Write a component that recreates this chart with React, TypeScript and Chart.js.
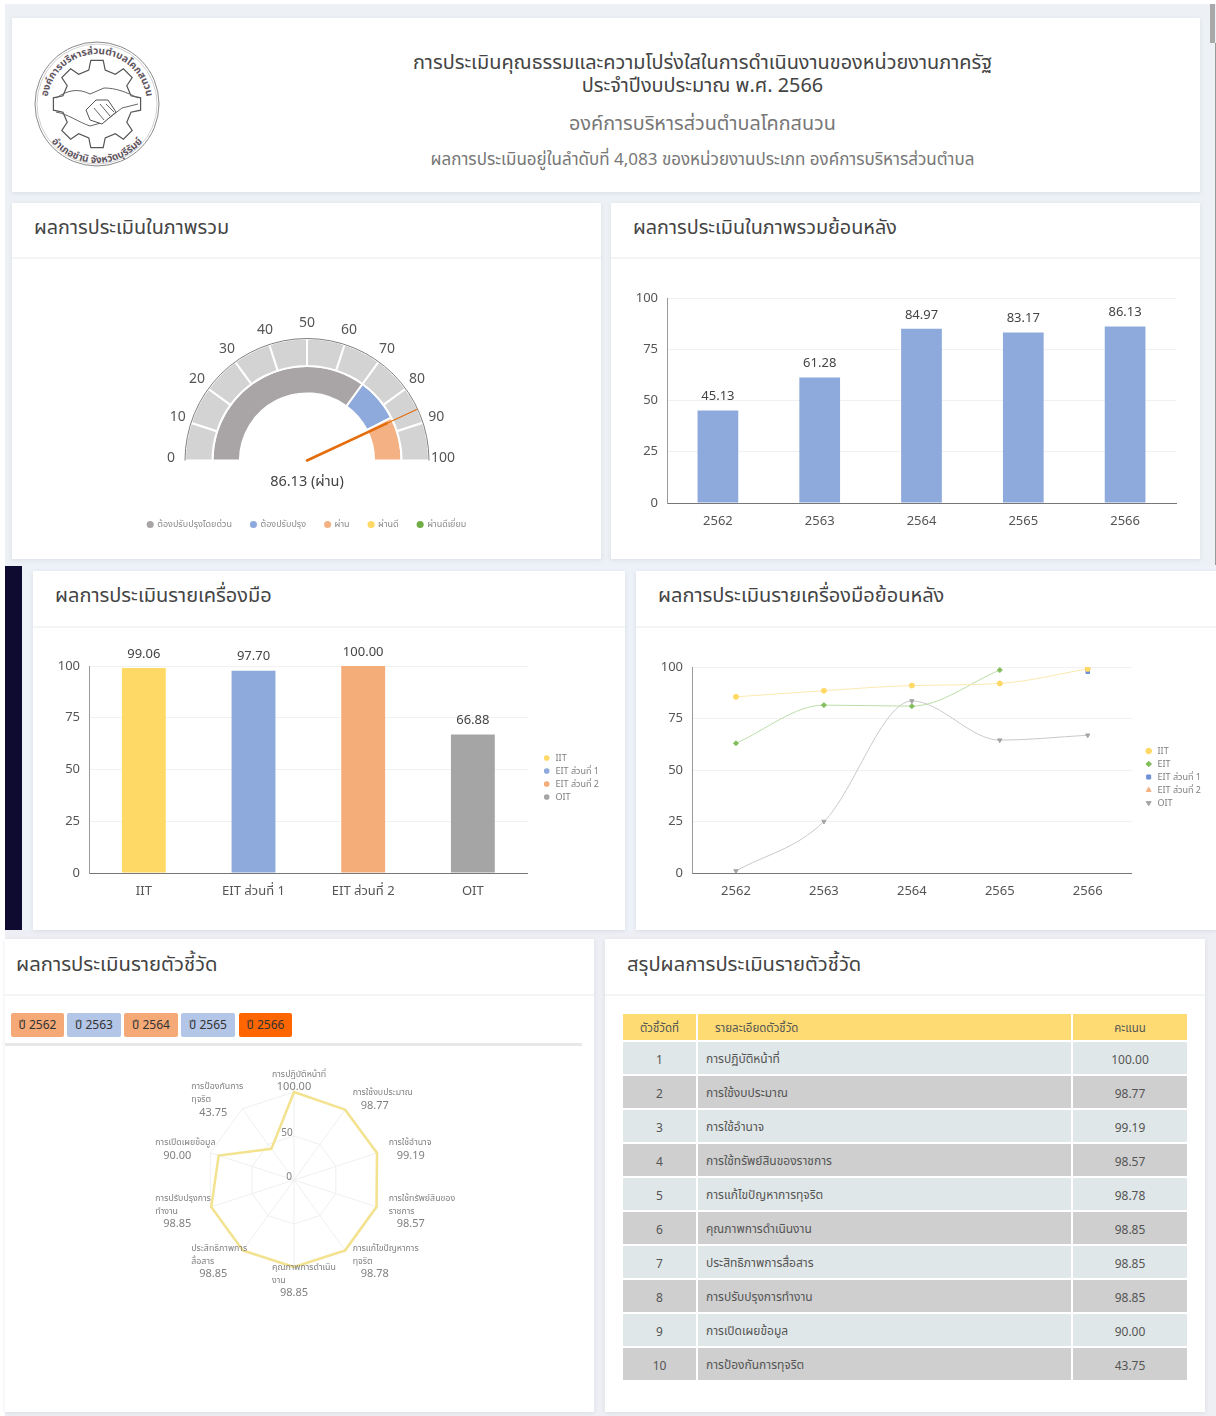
import React, { useEffect, useRef } from "react";
import { Chart, registerables } from "chart.js";

Chart.register(...registerables);

const FONT = '"Noto Sans", "Noto Sans Thai", Lato, sans-serif';
Chart.defaults.font.family = FONT;

// ---- data ----
const GAUGE_TICKS = [0, 10, 20, 30, 40, 50, 60, 70, 80, 90, 100];
const GAUGE_OUTER = [10, 10, 10, 10, 10, 10, 10, 10, 10, 10];
const GAUGE_INNER = [70, 15, 15, 0, 0];
const GAUGE_LEGEND = ["ต้องปรับปรุงโดยด่วน", "ต้องปรับปรุง", "ผ่าน", "ผ่านดี", "ผ่านดีเยี่ยม"];
const GAUGE_COLORS = ["#a9a5a6", "#8ea9db", "#f4b183", "#ffd966", "#70ad47"];
const GAUGE_VALUE = 86.13;
const GAUGE_TEXT = "86.13 (ผ่าน)";

const YEARS = ["2562", "2563", "2564", "2565", "2566"];
const OVERALL_HISTORY = [45.13, 61.28, 84.97, 83.17, 86.13];

const TOOLS = ["IIT", "EIT ส่วนที่ 1", "EIT ส่วนที่ 2", "OIT"];
const TOOL_SCORES = [99.06, 97.7, 100.0, 66.88];
const TOOL_COLORS = ["#ffd966", "#8ea9db", "#f4ac78", "#a5a5a5"];

const LINE_IIT = [85.5, 88.5, 91, 92, 99.06];
const LINE_EIT = [63, 81.5, 81, 98.5, null];
const LINE_EIT1 = [null, null, null, null, 97.7];
const LINE_EIT2 = [null, null, null, null, 100];
const LINE_OIT = [1, 25, 83.5, 64.5, 66.88];

const INDICATOR_NO = ["1", "2", "3", "4", "5", "6", "7", "8", "9", "10"];
const INDICATORS = [
  "การปฏิบัติหน้าที่",
  "การใช้งบประมาณ",
  "การใช้อำนาจ",
  "การใช้ทรัพย์สินของราชการ",
  "การแก้ไขปัญหาการทุจริต",
  "คุณภาพการดำเนินงาน",
  "ประสิทธิภาพการสื่อสาร",
  "การปรับปรุงการทำงาน",
  "การเปิดเผยข้อมูล",
  "การป้องกันการทุจริต",
];
const INDICATOR_SCORES = [100.0, 98.77, 99.19, 98.57, 98.78, 98.85, 98.85, 98.85, 90.0, 43.75];
const RADAR_LABELS = [
  ["การปฏิบัติหน้าที่"],
  ["การใช้งบประมาณ"],
  ["การใช้อำนาจ"],
  ["การใช้ทรัพย์สินของ", "ราชการ"],
  ["การแก้ไขปัญหาการ", "ทุจริต"],
  ["คุณภาพการดำเนิน", "งาน"],
  ["ประสิทธิภาพการ", "สื่อสาร"],
  ["การปรับปรุงการ", "ทำงาน"],
  ["การเปิดเผยข้อมูล"],
  ["การป้องกันการ", "ทุจริต"],
];
const RADAR_VALUE_OFFSETS = [
  [0, -5], [29, -3], [33, 3], [33, 17], [29, 23],
  [0, 25], [-29, 23], [-33, 17], [-33, 3], [-29, 4],
];
const YEAR_BUTTONS = ["ปี 2562", "ปี 2563", "ปี 2564", "ปี 2565", "ปี 2566"];
const YEAR_COLORS = ["#f4a977", "#b4c6e7", "#f4a977", "#b4c6e7", "#ff6600"];

// ---- plugins ----
const barValues = {
  id: "barValues",
  afterDatasetsDraw(chart: any) {
    const { ctx } = chart;
    const meta = chart.getDatasetMeta(0);
    ctx.save();
    ctx.font = `13px ${FONT}`;
    ctx.fillStyle = "#444";
    ctx.textAlign = "center";
    ctx.textBaseline = "middle";
    meta.data.forEach((el: any, i: number) => {
      ctx.fillText(chart.data.datasets[0].data[i].toFixed(2), el.x, el.y - 14);
    });
    ctx.restore();
  },
};

const legendShift = (dx: number, dy: number) => ({
  id: "legendShift",
  afterLayout(chart: any) {
    const l = chart.legend;
    l.left += dx;
    l.right += dx;
    l.top += dy;
    l.bottom += dy;
  },
});

const gaugeDecor = {
  id: "gaugeDecor",
  afterDatasetsDraw(chart: any) {
    const { ctx } = chart;
    const arc = chart.getDatasetMeta(0).data[0];
    const { x, y, outerRadius } = arc;
    ctx.save();
    ctx.strokeStyle = "#7f7f7f";
    ctx.lineWidth = 1;
    ctx.beginPath();
    ctx.arc(x, y, outerRadius, Math.PI, 2 * Math.PI);
    ctx.stroke();
    // needle
    const a = Math.PI + (GAUGE_VALUE / 100) * Math.PI;
    const cos = Math.cos(a);
    const sin = Math.sin(a);
    ctx.strokeStyle = "#e46c0a";
    ctx.lineCap = "round";
    ctx.lineWidth = 2.6;
    ctx.beginPath();
    ctx.moveTo(x, y);
    ctx.lineTo(x + cos * 88, y + sin * 88);
    ctx.stroke();
    ctx.lineWidth = 1.2;
    ctx.beginPath();
    ctx.moveTo(x + cos * 86, y + sin * 86);
    ctx.lineTo(x + cos * (outerRadius - 1), y + sin * (outerRadius - 1));
    ctx.stroke();
    // ticks
    ctx.font = `14px ${FONT}`;
    ctx.fillStyle = "#555";
    ctx.textAlign = "center";
    ctx.textBaseline = "middle";
    GAUGE_TICKS.forEach((t) => {
      const ta = Math.PI + (t / 100) * Math.PI;
      ctx.fillText(String(t), x + Math.cos(ta) * 136, y + Math.sin(ta) * 135 - 2);
    });
    ctx.font = `14.5px ${FONT}`;
    ctx.fillStyle = "#444";
    ctx.fillText(GAUGE_TEXT, x, y + 21);
    ctx.restore();
  },
};

const radarDecor = {
  id: "radarDecor",
  afterDatasetsDraw(chart: any) {
    const { ctx } = chart;
    const scale = chart.scales.r;
    ctx.save();
    ctx.textBaseline = "middle";
    ctx.fillStyle = "#808080";
    ctx.font = `10px ${FONT}`;
    ctx.textAlign = "center";
    [0, 50].forEach((v) => {
      ctx.fillText(String(v), scale.xCenter - (v ? 7 : 5), scale.yCenter - scale.getDistanceFromCenterForValue(v) - 3);
    });
    RADAR_LABELS.forEach((lines, i) => {
      const p = scale.getPointPosition(i, scale.drawingArea);
      const vx = p.x + RADAR_VALUE_OFFSETS[i][0];
      const vy = p.y + RADAR_VALUE_OFFSETS[i][1];
      ctx.font = `11px ${FONT}`;
      ctx.fillStyle = "#808080";
      ctx.textAlign = "center";
      ctx.fillText(INDICATOR_SCORES[i].toFixed(2), vx, vy);
      ctx.font = `8.8px ${FONT}`;
      ctx.textAlign = "left";
      lines.forEach((line, j) => {
        ctx.fillText(line, vx - 22, vy - 13 * (lines.length - j));
      });
    });
    ctx.restore();
  },
};

// ---- helpers ----
const fixWidth = (w: number) => (scale: any) => {
  scale.width = w;
};
const fixHeight = (h: number) => (scale: any) => {
  scale.height = h;
};

function cartesianScales(yWidth: number) {
  return {
    x: {
      afterFit: fixHeight(30),
      grid: { display: false, drawTicks: false },
      border: { color: "#777" },
      ticks: { color: "#555", font: { size: 13 }, padding: 10 },
    },
    y: {
      min: 0,
      max: 100,
      afterFit: fixWidth(yWidth),
      grid: { color: "#f1f1f1", drawTicks: false },
      border: { color: "#999" },
      ticks: { stepSize: 25, color: "#555", font: { size: 13 }, padding: 9 },
    },
  };
}

function ChartBox({ x, y, w, h, config }: any) {
  const ref = useRef<HTMLCanvasElement>(null);
  useEffect(() => {
    const chart = new Chart(ref.current as HTMLCanvasElement, config());
    return () => chart.destroy();
  }, []);
  return (
    <div style={{ position: "absolute", left: x, top: y, width: w, height: h }}>
      <canvas ref={ref} width={w} height={h} style={{ display: "block", width: w, height: h }} />
    </div>
  );
}

function gaugeConfig() {
  return {
    type: "doughnut",
    data: {
      labels: GAUGE_LEGEND,
      datasets: [
        { data: GAUGE_OUTER, backgroundColor: "#d3d3d3", borderColor: "#fff", borderWidth: 2 },
        { data: GAUGE_INNER, backgroundColor: GAUGE_COLORS, borderColor: "#fff", borderWidth: 2 },
      ],
    },
    options: {
      responsive: false,
      animation: false,
      rotation: -90,
      circumference: 180,
      radius: 122,
      cutout: "55%",
      plugins: {
        tooltip: { enabled: false },
        legend: {
          position: "bottom",
          labels: {
            usePointStyle: true,
            pointStyle: "circle",
            boxWidth: 5,
            boxHeight: 5,
            padding: 19,
            color: "#8a8a8a",
            font: { size: 9 },
            generateLabels: () =>
              GAUGE_LEGEND.map((text, i) => ({
                text,
                fillStyle: GAUGE_COLORS[i],
                strokeStyle: GAUGE_COLORS[i],
                fontColor: "#8a8a8a",
                lineWidth: 0,
                pointStyle: "circle",
                index: i,
              })),
          },
        },
      },
    },
    plugins: [gaugeDecor],
  };
}

function historyBarConfig() {
  return {
    type: "bar",
    data: {
      labels: YEARS,
      datasets: [{ data: OVERALL_HISTORY, backgroundColor: "#8ea9db", categoryPercentage: 1, barPercentage: 0.4 }],
    },
    options: {
      responsive: false,
      animation: false,
      layout: { padding: { left: 17, right: 14, top: 28, bottom: 7 } },
      plugins: { legend: { display: false }, tooltip: { enabled: false } },
      scales: cartesianScales(30),
    },
    plugins: [barValues],
  };
}

function legendOpts() {
  return {
    position: "right",
    labels: {
      usePointStyle: true,
      boxWidth: 4,
      boxHeight: 4,
      padding: 4,
      color: "#808080",
      font: { size: 9 },
    },
  };
}

function toolBarConfig() {
  return {
    type: "bar",
    data: {
      labels: TOOLS,
      datasets: [{ data: TOOL_SCORES, backgroundColor: TOOL_COLORS, categoryPercentage: 1, barPercentage: 0.4 }],
    },
    options: {
      responsive: false,
      animation: false,
      layout: { padding: { left: 18, right: 15, top: 36, bottom: 7 } },
      plugins: {
        tooltip: { enabled: false },
        legend: {
          ...legendOpts(),
          labels: {
            ...legendOpts().labels,
            generateLabels: () =>
              TOOLS.map((text, i) => ({
                text: " " + text,
                fillStyle: TOOL_COLORS[i],
                strokeStyle: TOOL_COLORS[i],
                fontColor: "#808080",
                lineWidth: 0,
                pointStyle: "circle",
                index: i,
              })),
          },
        },
      },
      scales: cartesianScales(30),
    },
    plugins: [barValues, legendShift(13, -7)],
  };
}

function lineDataset(label: string, data: any[], color: string, lineColor: string, pointStyle: string, rotation = 0) {
  return {
    label,
    data,
    borderColor: lineColor,
    backgroundColor: color,
    pointBackgroundColor: color,
    pointBorderColor: color,
    borderWidth: 1,
    pointStyle,
    pointRadius: 2.5,
    pointRotation: rotation,
    cubicInterpolationMode: "monotone",
    spanGaps: false,
  };
}

function lineConfig() {
  const scales: any = cartesianScales(30);
  scales.x.offset = true;
  const legend: any = legendOpts();
  legend.labels.generateLabels = (chart: any) =>
    Chart.defaults.plugins.legend.labels.generateLabels(chart).map((l: any) => ({ ...l, text: " " + l.text }));
  return {
    type: "line",
    data: {
      labels: YEARS,
      datasets: [
        lineDataset("IIT", LINE_IIT, "#ffd966", "#fbe9b0", "circle"),
        lineDataset("EIT", LINE_EIT, "#82bd5c", "#bcdca8", "rectRot"),
        lineDataset("EIT ส่วนที่ 1", LINE_EIT1, "#6f8fd8", "#6f8fd8", "rect"),
        lineDataset("EIT ส่วนที่ 2", LINE_EIT2, "#f4b183", "#f4b183", "triangle"),
        lineDataset("OIT", LINE_OIT, "#a5a5a5", "#c9c9c9", "triangle", 180),
      ],
    },
    options: {
      responsive: false,
      animation: false,
      layout: { padding: { left: 22, right: 10, top: 27, bottom: 7 } },
      plugins: { legend, tooltip: { enabled: false } },
      scales,
    },
    plugins: [legendShift(11, -8)],
  };
}

function radarConfig() {
  return {
    type: "radar",
    data: {
      labels: INDICATORS,
      datasets: [
        {
          data: INDICATOR_SCORES,
          borderColor: "#f3e28e",
          borderWidth: 2.5,
          backgroundColor: "transparent",
          pointRadius: 0,
          tension: 0,
        },
      ],
    },
    options: {
      responsive: false,
      animation: false,
      layout: { padding: { top: 32, bottom: 32 } },
      plugins: { legend: { display: false }, tooltip: { enabled: false } },
      scales: {
        r: {
          min: 0,
          max: 100,
          ticks: { stepSize: 50, display: false, showLabelBackdrop: false },
          grid: { color: "#efefef" },
          angleLines: { color: "#efefef" },
          pointLabels: { display: false },
        },
      },
    },
    plugins: [radarDecor],
  };
}

// ---- layout pieces ----
const cardShadow = "0 1px 4px rgba(120,140,160,0.18)";

function Card({ x, y, w, h, title, lineY, titleLeft = 22, titleSize = 20, titleTop = 8 }: any) {
  return (
    <div style={{ position: "absolute", left: x, top: y, width: w, height: h, background: "#fff", boxShadow: cardShadow }}>
      {title ? (
        <>
          <div style={{ position: "absolute", left: titleLeft, top: titleTop, fontSize: titleSize, lineHeight: "32px", color: "#444", whiteSpace: "nowrap" }}>{title}</div>
          <div style={{ position: "absolute", left: 0, right: 0, top: lineY, height: 2, background: "#f2f4f6" }} />
        </>
      ) : null}
    </div>
  );
}

function gearPath(cx: number, cy: number, r1: number, r2: number, teeth: number) {
  const pts: string[] = [];
  const step = (Math.PI * 2) / teeth;
  for (let i = 0; i < teeth; i++) {
    const a = i * step - Math.PI / 2;
    [[-0.5, r1], [-0.3, r2], [0.3, r2], [0.5, r1]].forEach(([d, r]) => {
      pts.push(`${(cx + Math.cos(a + d * step * 0.6) * r).toFixed(1)},${(cy + Math.sin(a + d * step * 0.6) * r).toFixed(1)}`);
    });
  }
  return "M" + pts.join("L") + "Z";
}

function Logo() {
  return (
    <svg style={{ position: "absolute", left: 32, top: 38 }} width="132" height="132" viewBox="0 0 132 132">
      <defs>
        <path id="logoTop" d="M 15 66 A 50 50 0 1 1 115 66" />
        <path id="logoBottom" d="M 6 66 A 59 59 0 0 0 124 66" />
      </defs>
      <circle cx="65" cy="66" r="62" fill="#fff" stroke="#8a8a8a" strokeWidth="1" />
      <circle cx="65" cy="66" r="60" fill="none" stroke="#c4c4c4" strokeWidth="0.8" />
      <path d={gearPath(65, 66, 35, 44, 8)} fill="#fff" stroke="#555" strokeWidth="1.2" />
      <circle cx="65" cy="66" r="26" fill="#fff" />
      <path d="M24 60 C36 52 46 50 58 56 L72 50 C84 50 94 54 106 60" fill="none" stroke="#666" strokeWidth="1" />
      <path d="M24 74 C36 76 46 84 58 88 L72 84 L90 70 L106 66" fill="none" stroke="#666" strokeWidth="1" />
      <path d="M54 72 L64 62 L76 62 L84 74 L70 86 L58 82 Z" fill="#fff" stroke="#555" strokeWidth="1" />
      <path d="M62 70 L72 82 M68 66 L78 78 M74 66 L82 74" stroke="#666" strokeWidth="1" />
      <text fontSize="10" fontWeight="700" fill="#5f5560" fontFamily={FONT}>
        <textPath href="#logoTop" startOffset="50%" textAnchor="middle">องค์การบริหารส่วนตำบลโคกสนวน</textPath>
      </text>
      <text fontSize="10" fontWeight="700" fill="#5f5560" fontFamily={FONT}>
        <textPath href="#logoBottom" startOffset="50%" textAnchor="middle">อำเภอชำนิ จังหวัดบุรีรัมย์</textPath>
      </text>
    </svg>
  );
}

function HeaderLine({ y, size, color, text }: any) {
  return (
    <div style={{ position: "absolute", left: 200, width: 1005, top: y - 15, height: 30, lineHeight: "30px", textAlign: "center", fontSize: size, color, whiteSpace: "nowrap" }}>{text}</div>
  );
}

const cell = { textAlign: "center", fontSize: 12, color: "#555", padding: "2px 0 0 0", borderRight: "2px solid #fff", borderBottom: "2px solid #fff" } as any;

function ScoreTable() {
  return (
    <table
      style={{ position: "absolute", left: 623, top: 1014, width: 564, borderCollapse: "separate", borderSpacing: 0, tableLayout: "fixed", fontFamily: FONT }}
    >
      <colgroup>
        <col style={{ width: 75 }} />
        <col style={{ width: 375 }} />
        <col style={{ width: 114 }} />
      </colgroup>
      <thead>
        <tr style={{ height: 28, background: "#ffdc73" }}>
          <th style={{ ...cell, fontWeight: 400, fontSize: 11.5 }}>ตัวชี้วัดที่</th>
          <th style={{ ...cell, fontWeight: 400, fontSize: 11.5, textAlign: "left", paddingLeft: 17 }}>รายละเอียดตัวชี้วัด</th>
          <th style={{ ...cell, fontWeight: 400, fontSize: 11.5, borderRight: "none" }}>คะแนน</th>
        </tr>
      </thead>
      <tbody>
        {INDICATORS.map((name, i) => (
          <tr key={name} style={{ height: 34, background: i % 2 ? "#cfcfcf" : "#e0e7e8" }}>
            <td style={cell}>{INDICATOR_NO[i]}</td>
            <td style={{ ...cell, textAlign: "left", paddingLeft: 8 }}>{name}</td>
            <td style={{ ...cell, borderRight: "none" }}>{INDICATOR_SCORES[i].toFixed(2)}</td>
          </tr>
        ))}
      </tbody>
    </table>
  );
}

const BUTTON_LEFT = [11, 67, 124, 181, 239];
const BUTTON_WIDTH = [53, 54, 54, 54, 53];

export default function App() {
  return (
    <div style={{ position: "absolute", left: 0, top: 0, width: 1216, height: 1416, overflow: "hidden", background: "#fff", fontFamily: FONT }}>
      <div style={{ position: "absolute", left: 5, top: 4, width: 1211, height: 566, background: "#edf1f5" }} />
      <div style={{ position: "absolute", left: 5, top: 566, width: 1211, height: 364, background: "#edf1f8" }} />
      <div style={{ position: "absolute", left: 5, top: 566, width: 17, height: 364, background: "#0f0a30" }} />
      <div style={{ position: "absolute", left: 5, top: 930, width: 1211, height: 486, background: "#eeeff4" }} />
      <div style={{ position: "absolute", left: 0, top: 939, width: 5, height: 477, background: "#fff" }} />
      <div style={{ position: "absolute", left: 1210, top: 4, width: 5, height: 39, background: "#a8a8a8" }} />
      <div style={{ position: "absolute", left: 1215, top: 43, width: 1, height: 522, background: "#999" }} />

      <Card x={12} y={18} w={1188} h={174} />
      <Card x={12} y={203} w={589} h={356} title="ผลการประเมินในภาพรวม" lineY={54} titleSize={19.8} />
      <Card x={611} y={203} w={589} h={356} title="ผลการประเมินในภาพรวมย้อนหลัง" lineY={54} titleSize={19.8} />
      <Card x={33} y={571} w={592} h={359} title="ผลการประเมินรายเครื่องมือ" lineY={55} />
      <Card x={636} y={571} w={580} h={359} title="ผลการประเมินรายเครื่องมือย้อนหลัง" lineY={55} />
      <Card x={5} y={939} w={589} h={473} title="ผลการประเมินรายตัวชี้วัด" lineY={55} titleLeft={11} titleSize={20.3} />
      <Card x={605} y={939} w={600} h={473} title="สรุปผลการประเมินรายตัวชี้วัด" lineY={55} titleSize={20.2} />

      <Logo />
      <HeaderLine y={62} size={19.9} color="#444" text="การประเมินคุณธรรมและความโปร่งใสในการดำเนินงานของหน่วยงานภาครัฐ" />
      <HeaderLine y={85} size={19.9} color="#444" text="ประจำปีงบประมาณ พ.ศ. 2566" />
      <HeaderLine y={123} size={19.8} color="#777" text="องค์การบริหารส่วนตำบลโคกสนวน" />
      <HeaderLine y={159} size={17} color="#777" text="ผลการประเมินอยู่ในลำดับที่ 4,083 ของหน่วยงานประเภท องค์การบริหารส่วนตำบล" />

      <ChartBox x={90} y={298} w={434} h={241} config={gaugeConfig} />
      <ChartBox x={620} y={270} w={570} h={270} config={historyBarConfig} />
      <ChartBox x={41} y={630} w={570} h={280} config={toolBarConfig} />
      <ChartBox x={640} y={640} w={570} h={270} config={lineConfig} />
      <ChartBox x={100} y={1060} w={388} h={240} config={radarConfig} />

      {YEAR_BUTTONS.map((label, i) => (
        <div
          key={label}
          style={{
            position: "absolute",
            left: BUTTON_LEFT[i],
            top: 1013,
            width: BUTTON_WIDTH[i],
            height: 24,
            lineHeight: "24px",
            textAlign: "center",
            background: YEAR_COLORS[i],
            borderRadius: 2,
            fontSize: 12,
            color: "#333",
          }}
        >
          {label}
        </div>
      ))}
      <div style={{ position: "absolute", left: 5, top: 1043, width: 577, height: 3, background: "#e8e8e8" }} />

      <ScoreTable />
    </div>
  );
}
